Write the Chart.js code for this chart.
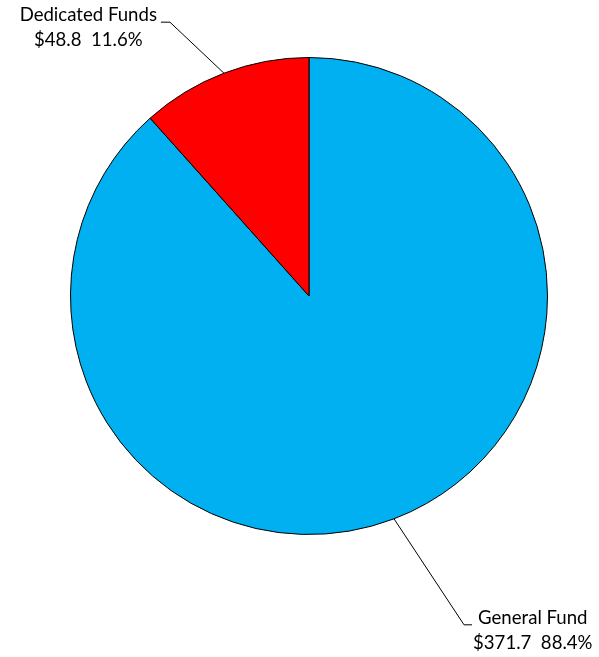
<!DOCTYPE html>
<html lang="en"><head>
<meta charset="utf-8">
<title>Funds</title>
<script src="https://cdn.jsdelivr.net/npm/chart.js@4.4.3/dist/chart.umd.min.js"></script>
<style>
  *{box-sizing:border-box;margin:0;padding:0}
  body{background:#fff;width:599px;height:657px;overflow:hidden}
  .wrap{position:relative;width:599px;height:657px}
</style>
</head><body>
<div class="wrap"><canvas id="pie"></canvas></div>
<script>
const categories = ['General Fund', 'Dedicated Funds']
const amounts = [371.7, 48.8]
const percents = ['88.4%', '11.6%']
const colors = ['#00B0F0', '#FF0000']

// leader line elbow offsets from the slice edge, and which side the text sits on
const leaders = [
  { dx: 70, dy: 106, run: 8, side: 'right' },
  { dx: -54, dy: -51, run: -9, side: 'left' },
]

const calloutPlugin = {
  id: 'callouts',
  afterDatasetsDraw(chart) {
    const ctx = chart.ctx
    const arcs = chart.getDatasetMeta(0).data
    ctx.save()
    ctx.font = '18.6px Lato, sans-serif'
    ctx.fillStyle = '#000'
    ctx.strokeStyle = '#000'
    ctx.lineWidth = 1
    arcs.forEach((arc, i) => {
      const mid = (arc.startAngle + arc.endAngle) / 2
      const sx = arc.x + Math.cos(mid) * arc.outerRadius
      const sy = arc.y + Math.sin(mid) * arc.outerRadius
      const L = leaders[i]
      const ex = sx + L.dx, ey = sy + L.dy
      const hx = ex + L.run
      ctx.beginPath()
      ctx.moveTo(sx, sy)
      ctx.lineTo(ex, ey)
      ctx.lineTo(hx, ey)
      ctx.stroke()

      const lines = [categories[i], '$' + amounts[i].toFixed(1) + '  ' + percents[i]]
      const w = Math.max(...lines.map(t => ctx.measureText(t).width))
      const cx = L.side === 'right' ? hx + 1 + w / 2 : hx - 4 - w / 2
      ctx.textAlign = 'center'
      ctx.textBaseline = 'middle'
      ctx.fillText(lines[0], cx, ey - 7)
      ctx.fillText(lines[1], cx, ey + 18)
    })
    ctx.restore()
  }
}

new Chart(document.getElementById('pie'), {
  type: 'pie',
  data: {
    labels: categories,
    datasets: [{
      data: amounts,
      backgroundColor: colors,
      borderColor: '#000',
      borderWidth: 1,
      hoverOffset: 0,
    }],
  },
  options: {
    responsive: true,
    maintainAspectRatio: false,
    animation: false,
    rotation: 0,
    layout: { padding: { left: 70, right: 51, top: 57, bottom: 122 } },
    plugins: {
      legend: { display: false },
      tooltip: { enabled: false },
    },
  },
  plugins: [calloutPlugin],
})
</script>
</body></html>
